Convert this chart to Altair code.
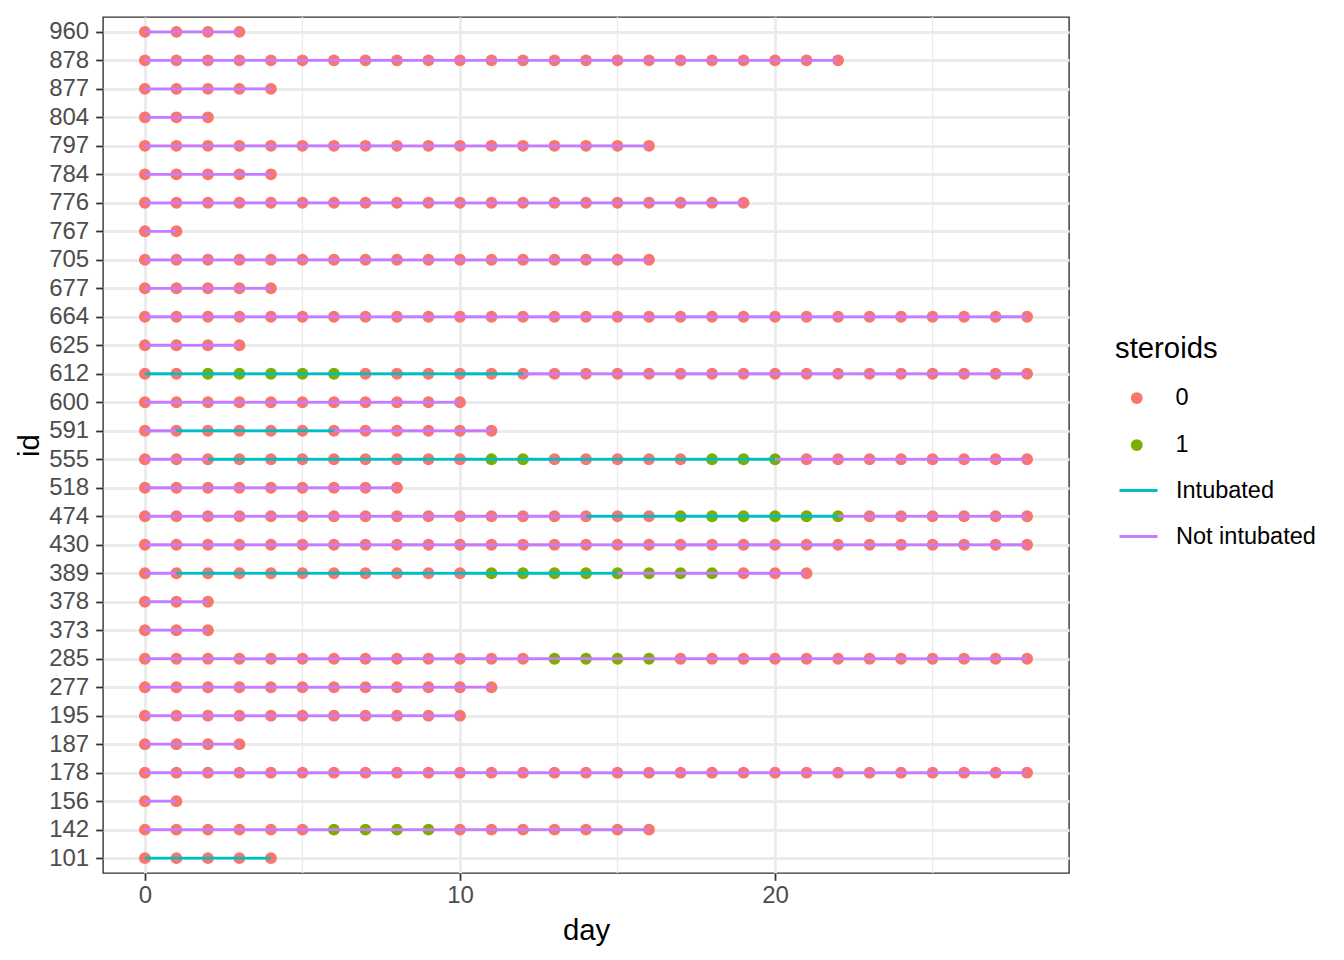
import altair as alt
import pandas as pd

# ---- data ----
ids = [101, 142, 156, 178, 187, 195, 277, 285, 373, 378, 389, 430, 474, 518, 555,
       591, 600, 612, 625, 664, 677, 705, 767, 776, 784, 797, 804, 877, 878, 960]
last_day = [4, 16, 1, 28, 3, 10, 11, 28, 2, 2, 21, 28, 28, 8, 28,
            11, 10, 28, 3, 28, 4, 16, 1, 19, 4, 16, 2, 4, 22, 3]

# days (segment start days) on which the patient was intubated
intub_id = [101, 389, 474, 555, 591, 612]
intub_first = [0, 1, 14, 2, 1, 0]
intub_last = [3, 14, 21, 19, 5, 11]

# days on which steroids were given
ster_id = [142, 285, 389, 474, 555, 555, 612]
ster_first = [6, 13, 11, 17, 11, 18, 2]
ster_last = [9, 16, 18, 22, 12, 20, 6]

steroid_levels = ["0", "1"]
steroid_colors = ["#F8766D", "#7CAE00"]
status_levels = ["Intubated", "Not intubated"]
status_colors = ["#00BFC4", "#C77CFF"]
x_ticks = [0, 10, 20]
x_minor = [5, 15, 25]

# ---- build tables ----
def in_ranges(pid, d, id_list, first, last):
    return any(pid == i and f <= d <= l for i, f, l in zip(id_list, first, last))

pts_rows, seg_rows = [], []
for pid, last in zip(ids, last_day):
    for d in range(last + 1):
        pts_rows.append({"id": str(pid), "day": d,
                         "steroids": "1" if in_ranges(pid, d, ster_id, ster_first, ster_last) else "0"})
        if d < last:
            seg_rows.append({"id": str(pid), "day": d, "day2": d + 1,
                             "status": "Intubated" if in_ranges(pid, d, intub_id, intub_first, intub_last)
                             else "Not intubated"})
pts = pd.DataFrame(pts_rows)
segs = pd.DataFrame(seg_rows)
minor_df = pd.DataFrame({"day": x_minor})

id_order = [str(i) for i in reversed(ids)]

FONT = "Liberation Sans"
xscale = alt.Scale(domain=[-1.33, 29.33], nice=False, zero=False)
xenc = alt.X("day:Q", scale=xscale,
             axis=alt.Axis(values=x_ticks, title="day", titlePadding=9, labelPadding=3))
yenc = alt.Y("id:N", sort=id_order, scale=alt.Scale(type="point", padding=0.52),
             axis=alt.Axis(title="id", titlePadding=4, labelPadding=7))

minor = alt.Chart(minor_df).mark_rule(color="#EBEBEB", strokeWidth=1.4).encode(x=xenc)

points = alt.Chart(pts).mark_circle(size=140, opacity=1).encode(
    x=xenc, y=yenc,
    fill=alt.Fill("steroids:N",
                  scale=alt.Scale(domain=steroid_levels, range=steroid_colors),
                  legend=alt.Legend(title="steroids", orient="none", direction="vertical",
                                    legendX=1012, legendY=318,
                                    symbolType="circle", symbolSize=140, symbolStrokeWidth=0,
                                    symbolOffset=10, labelOffset=27,
                                    titlePadding=22, rowPadding=22,
                                    titleFontSize=29.3, titleFont=FONT, titleFontWeight="normal",
                                    titleColor="#000000",
                                    labelFontSize=23.5, labelFont=FONT, labelColor="#000000")),
)

lines = alt.Chart(segs).mark_rule(strokeWidth=2.8, strokeCap="butt").encode(
    x=xenc, x2="day2:Q", y=yenc,
    stroke=alt.Stroke("status:N",
                      scale=alt.Scale(domain=status_levels, range=status_colors),
                      legend=alt.Legend(title=None, orient="none", direction="vertical",
                                        legendX=1015, legendY=453,
                                        symbolType="stroke", symbolSize=1444, symbolStrokeWidth=2.8,
                                        labelOffset=17, rowPadding=14,
                                        labelFontSize=23.5, labelFont=FONT, labelColor="#000000")),
)

chart = alt.layer(minor, points, lines).properties(
    width=966, height=856,
    autosize=alt.AutoSizeParams(type="none"),
    padding={"left": 95, "top": 9, "right": 260, "bottom": 75},
).configure_view(
    stroke="#333333", strokeWidth=1.4
).configure_axis(
    domain=False,
    grid=True, gridColor="#EBEBEB", gridWidth=2.8,
    tickColor="#333333", tickWidth=1.8, tickSize=7.3,
    labelFont=FONT, labelFontSize=24, labelColor="#4D4D4D",
    titleFont=FONT, titleFontSize=29.3, titleFontWeight="normal", titleColor="#000000",
)

chart.save("out.html", embed_options={"renderer": "svg", "actions": False})
